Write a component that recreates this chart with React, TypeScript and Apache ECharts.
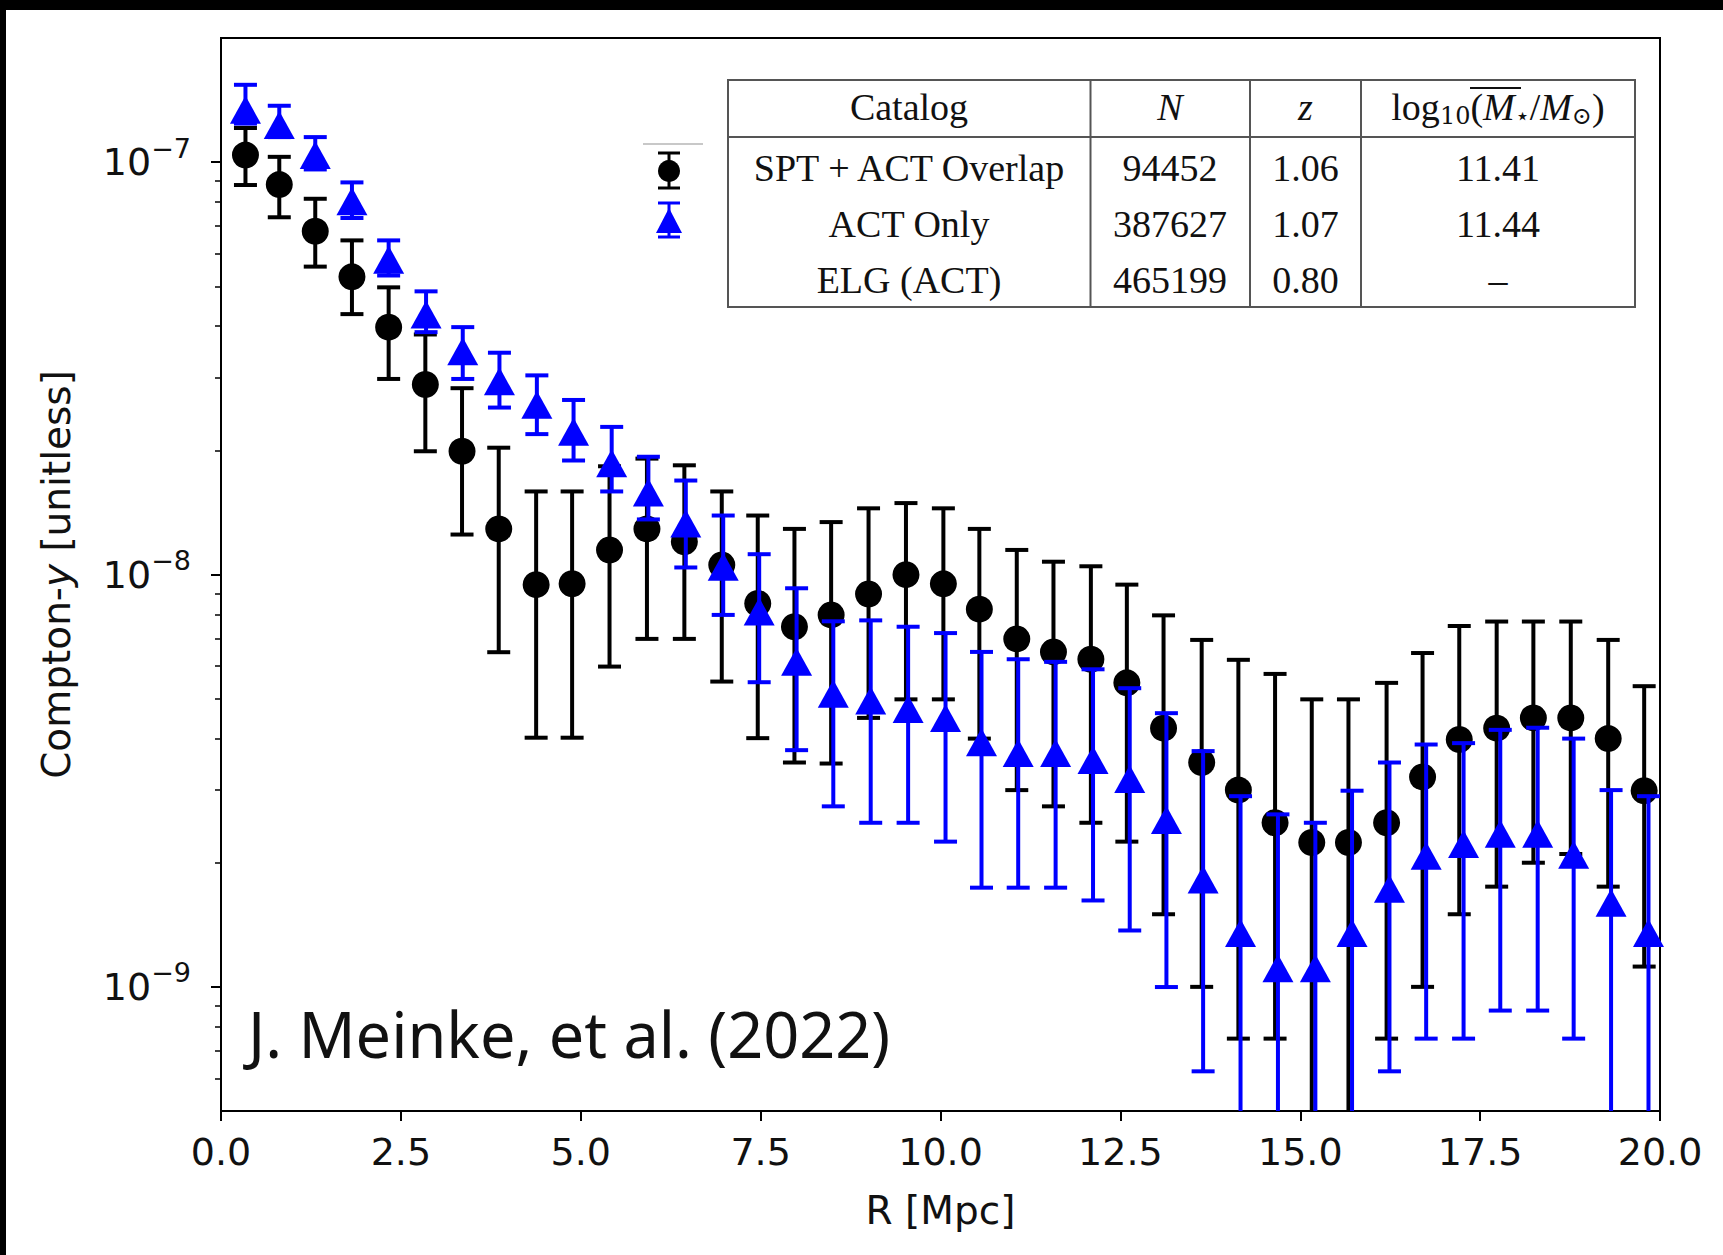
import React, { useEffect, useRef } from "react";
import * as echarts from "echarts";

// ---- Data ----
// SPT + ACT Overlap (black circles)
const rBlack = [0.34, 0.81, 1.31, 1.82, 2.33, 2.84, 3.35, 3.86, 4.38, 4.88, 5.4, 5.92, 6.44, 6.96, 7.46, 7.97, 8.48, 9.0, 9.52, 10.04, 10.54, 11.06, 11.57, 12.09, 12.59, 13.1, 13.63, 14.14, 14.65, 15.16, 15.67, 16.2, 16.7, 17.21, 17.73, 18.24, 18.76, 19.28, 19.78];
const yBlack = [1.04e-7, 8.82e-8, 6.8e-8, 5.27e-8, 3.98e-8, 2.89e-8, 1.99e-8, 1.29e-8, 9.45e-9, 9.5e-9, 1.147e-8, 1.29e-8, 1.2e-8, 1.055e-8, 8.51e-9, 7.47e-9, 7.98e-9, 8.97e-9, 9.99e-9, 9.49e-9, 8.24e-9, 6.98e-9, 6.49e-9, 6.23e-9, 5.46e-9, 4.24e-9, 3.5e-9, 3.0e-9, 2.5e-9, 2.24e-9, 2.24e-9, 2.5e-9, 3.23e-9, 3.98e-9, 4.24e-9, 4.49e-9, 4.49e-9, 4.0e-9, 2.99e-9];
const yBlackHi = [1.21e-7, 1.03e-7, 8.15e-8, 6.46e-8, 4.97e-8, 3.82e-8, 2.83e-8, 2.03e-8, 1.59e-8, 1.59e-8, 1.83e-8, 1.91e-8, 1.84e-8, 1.59e-8, 1.39e-8, 1.29e-8, 1.34e-8, 1.447e-8, 1.49e-8, 1.447e-8, 1.29e-8, 1.147e-8, 1.074e-8, 1.047e-8, 9.45e-9, 7.96e-9, 6.94e-9, 6.21e-9, 5.74e-9, 4.98e-9, 4.98e-9, 5.46e-9, 6.45e-9, 7.5e-9, 7.69e-9, 7.69e-9, 7.69e-9, 6.94e-9, 5.36e-9];
const yBlackLo = [8.8e-8, 7.35e-8, 5.58e-8, 4.28e-8, 2.98e-8, 1.99e-8, 1.25e-8, 6.48e-9, 4.02e-9, 4.02e-9, 5.98e-9, 6.98e-9, 6.98e-9, 5.5e-9, 4.01e-9, 3.5e-9, 3.48e-9, 4.49e-9, 4.98e-9, 4.98e-9, 4.0e-9, 3.0e-9, 2.74e-9, 2.5e-9, 2.25e-9, 1.5e-9, 1.0e-9, 7.49e-10, 7.49e-10, 3e-10, 3e-10, 7.49e-10, 1.0e-9, 1.5e-9, 1.75e-9, 2.0e-9, 2.1e-9, 1.75e-9, 1.12e-9];

// ACT Only (blue triangles)
const rBlue = [0.34, 0.81, 1.31, 1.82, 2.33, 2.85, 3.36, 3.87, 4.39, 4.9, 5.43, 5.94, 6.46, 6.98, 7.48, 8.0, 8.51, 9.03, 9.55, 10.07, 10.57, 11.08, 11.6, 12.12, 12.63, 13.14, 13.65, 14.17, 14.69, 15.21, 15.72, 16.24, 16.75, 17.27, 17.78, 18.3, 18.8, 19.32, 19.84];
const yBlue = [1.34e-7, 1.23e-7, 1.04e-7, 8.04e-8, 5.8e-8, 4.27e-8, 3.48e-8, 2.94e-8, 2.58e-8, 2.22e-8, 1.86e-8, 1.58e-8, 1.33e-8, 1.044e-8, 8.13e-9, 6.14e-9, 5.14e-9, 4.95e-9, 4.72e-9, 4.49e-9, 3.92e-9, 3.69e-9, 3.69e-9, 3.55e-9, 3.19e-9, 2.54e-9, 1.82e-9, 1.35e-9, 1.11e-9, 1.11e-9, 1.35e-9, 1.73e-9, 2.08e-9, 2.22e-9, 2.35e-9, 2.35e-9, 2.09e-9, 1.6e-9, 1.35e-9];
const yBlueHi = [1.54e-7, 1.37e-7, 1.15e-7, 8.93e-8, 6.46e-8, 4.86e-8, 3.98e-8, 3.45e-8, 3.04e-8, 2.65e-8, 2.28e-8, 1.93e-8, 1.69e-8, 1.39e-8, 1.12e-8, 9.26e-9, 7.7e-9, 7.74e-9, 7.47e-9, 7.21e-9, 6.49e-9, 6.23e-9, 6.14e-9, 5.89e-9, 5.3e-9, 4.61e-9, 3.73e-9, 2.9e-9, 2.62e-9, 2.5e-9, 2.99e-9, 3.5e-9, 3.87e-9, 3.9e-9, 4.2e-9, 4.25e-9, 4.0e-9, 3.0e-9, 2.9e-9];
const yBlueLo = [1.24e-7, 1.15e-7, 9.6e-8, 7.32e-8, 5.31e-8, 3.87e-8, 2.98e-8, 2.54e-8, 2.19e-8, 1.89e-8, 1.59e-8, 1.36e-8, 1.04e-8, 7.98e-9, 5.48e-9, 3.75e-9, 2.74e-9, 2.5e-9, 2.5e-9, 2.25e-9, 1.74e-9, 1.74e-9, 1.74e-9, 1.62e-9, 1.37e-9, 9.99e-10, 6.24e-10, 3e-10, 3e-10, 3e-10, 3e-10, 6.24e-10, 7.49e-10, 7.49e-10, 8.76e-10, 8.76e-10, 7.49e-10, 3e-10, 3e-10];

// Axis settings
const xTicks = [0, 2.5, 5, 7.5, 10, 12.5, 15, 17.5, 20];
const yMajor = [1e-9, 1e-8, 1e-7];
const yMinor = [6e-10, 7e-10, 8e-10, 9e-10, 2e-9, 3e-9, 4e-9, 5e-9, 6e-9, 7e-9, 8e-9, 9e-9, 2e-8, 3e-8, 4e-8, 5e-8, 6e-8, 7e-8, 8e-8, 9e-8];
const yMin = 5e-10;
const yMax = 2e-7;

// Table
const tableHeader = ["Catalog", "N", "z"];
const tableRows = [
  ["SPT + ACT Overlap", "94452", "1.06", "11.41"],
  ["ACT Only", "387627", "1.07", "11.44"],
  ["ELG (ACT)", "465199", "0.80", "–"],
];

const BLUE = "#0000ff";
const BLACK = "#000000";

function errorBarRenderer(color: string) {
  return (params: any, api: any) => {
    const x = api.value(0);
    const lo = api.value(1);
    const hi = api.value(2);
    const pLo = api.coord([x, lo]);
    const pHi = api.coord([x, hi]);
    const cap = 11.5;
    const st = { stroke: color, lineWidth: 4 };
    return {
      type: "group",
      children: [
        { type: "line", shape: { x1: pLo[0], y1: pLo[1], x2: pHi[0], y2: pHi[1] }, style: st },
        { type: "line", shape: { x1: pHi[0] - cap, y1: pHi[1], x2: pHi[0] + cap, y2: pHi[1] }, style: st },
        { type: "line", shape: { x1: pLo[0] - cap, y1: pLo[1], x2: pLo[0] + cap, y2: pLo[1] }, style: st },
      ],
    };
  };
}

export default function App() {
  const ref = useRef<HTMLDivElement>(null);
  useEffect(() => {
    if (!ref.current) return;
    const chart = echarts.init(ref.current, null, { renderer: "svg" });
    const L = Math.log10;

    const blackPts = rBlack.map((r, i) => [r, L(yBlack[i])]);
    const bluePts = rBlue.map((r, i) => [r, L(yBlue[i])]);
    const blackErr = rBlack.map((r, i) => [r, L(yBlackLo[i]), L(yBlackHi[i])]);
    const blueErr = rBlue.map((r, i) => [r, L(yBlueLo[i]), L(yBlueHi[i])]);

    const tickFont = { fontFamily: "DejaVu Sans", fontSize: 38, color: "#111" };

    const serif = "Liberation Serif";
    const colX = [909, 1170, 1305.5, 1498];
    const rowY = [168, 224, 280];
    const tableTexts: any[] = [];
    tableHeader.forEach((h, i) => {
      tableTexts.push({
        type: "text",
        x: colX[i],
        y: 107,
        style: {
          text: h,
          fontFamily: serif,
          fontSize: 38,
          fontStyle: i === 0 ? "normal" : "italic",
          fill: "#111",
          align: "center",
          verticalAlign: "middle",
        },
      });
    });
    tableTexts.push({
      type: "text",
      x: colX[3],
      y: 107,
      style: {
        text: "{r|log}{sub|10}{r|(}{it|M}{sub|⋆}{r|/}{it|M}{sub|⊙}{r|)}",
        fontFamily: serif,
        fontSize: 38,
        fill: "#111",
        align: "center",
        verticalAlign: "middle",
        rich: {
          r: { fontFamily: serif, fontSize: 38, fill: "#111" },
          it: { fontFamily: serif, fontSize: 38, fontStyle: "italic", fill: "#111" },
          sub: { fontFamily: "DejaVu Serif", fontSize: 24, fill: "#111", padding: [18, 0, 0, 0] },
        },
      },
    });
    tableRows.forEach((row, ri) => {
      row.forEach((cell, ci) => {
        tableTexts.push({
          type: "text",
          x: colX[ci],
          y: rowY[ri],
          style: {
            text: cell,
            fontFamily: serif,
            fontSize: 38,
            fill: "#111",
            align: "center",
            verticalAlign: "middle",
          },
        });
      });
    });

    const tableLine = { stroke: "#555", lineWidth: 2 };

    const option: any = {
      animation: false,
      backgroundColor: "#ffffff",
      grid: {
        left: 221,
        right: 63,
        top: 38,
        bottom: 144,
        show: true,
        borderColor: "#000",
        borderWidth: 2,
        backgroundColor: "transparent",
        containLabel: false,
        outerBoundsMode: "none",
      },
      xAxis: {
        type: "value",
        min: 0,
        max: 20,
        interval: 2.5,
        name: "R [Mpc]",
        nameLocation: "middle",
        nameGap: 80,
        nameTextStyle: { fontFamily: "DejaVu Sans", fontSize: 39, color: "#111" },
        axisLine: { show: true, onZero: false, lineStyle: { color: "#000", width: 2 } },
        axisTick: { show: true, inside: false, length: 10, lineStyle: { color: "#000", width: 2 }, customValues: xTicks },
        axisLabel: { ...tickFont, margin: 22, formatter: (v: number) => v.toFixed(1), customValues: xTicks },
        splitLine: { show: false },
      },
      yAxis: [
        {
          type: "value",
          min: L(yMin),
          max: L(yMax),
          position: "left",
          name: "Compton-{i|y} [unitless]",
          nameLocation: "middle",
          nameRotate: 90,
          nameGap: 145,
          nameTextStyle: {
            fontFamily: "DejaVu Sans",
            fontSize: 39,
            color: "#111",
            rich: { i: { fontFamily: "DejaVu Sans", fontSize: 39, fontStyle: "italic", color: "#111" } },
          },
          axisLine: { show: true, onZero: false, lineStyle: { color: "#000", width: 2 } },
          axisTick: { show: true, inside: false, length: 10, lineStyle: { color: "#000", width: 2 }, customValues: yMajor.map(L) },
          axisLabel: {
            margin: 30,
            customValues: yMajor.map(L),
            formatter: (v: number) => `{b|10}{s|−${Math.abs(Math.round(v))}}`,
            rich: {
              b: { fontFamily: "DejaVu Sans", fontSize: 38, color: "#111" },
              s: { fontFamily: "DejaVu Sans", fontSize: 27, color: "#111", padding: [0, 0, 28, 0] },
            },
          },
          splitLine: { show: false },
        },
        {
          type: "value",
          min: L(yMin),
          max: L(yMax),
          position: "left",
          offset: 0,
          axisLine: { show: false },
          axisTick: { show: true, inside: false, length: 6, lineStyle: { color: "#000", width: 1.5 }, customValues: yMinor.map(L) },
          axisLabel: { show: false },
          splitLine: { show: false },
        },
      ],
      series: [
        {
          type: "custom",
          name: "SPT + ACT Overlap err",
          renderItem: errorBarRenderer(BLACK),
          data: blackErr,
          encode: { x: 0, y: [1, 2] },
          clip: true,
          z: 2,
        },
        {
          type: "scatter",
          name: "SPT + ACT Overlap",
          data: blackPts,
          symbol: "circle",
          symbolSize: 27,
          itemStyle: { color: BLACK, opacity: 1 },
          clip: true,
          z: 3,
        },
        {
          type: "custom",
          name: "ACT Only err",
          renderItem: errorBarRenderer(BLUE),
          data: blueErr,
          encode: { x: 0, y: [1, 2] },
          clip: true,
          z: 4,
        },
        {
          type: "scatter",
          name: "ACT Only",
          data: bluePts,
          symbol: "triangle",
          symbolSize: [31, 28],
          itemStyle: { color: BLUE, opacity: 1 },
          clip: true,
          z: 5,
        },
      ],
      graphic: [
        // black frame bands of the screenshot
        { type: "rect", shape: { x: 0, y: 0, width: 1723, height: 10 }, style: { fill: "#000" }, z: 100 },
        { type: "rect", shape: { x: 0, y: 0, width: 6, height: 1255 }, style: { fill: "#000" }, z: 100 },
        // credit text
        {
          type: "text",
          x: 248,
          y: 1033,
          style: {
            text: "J. Meinke, et al. (2022)",
            fontFamily: "Noto Sans",
            fontSize: 63,
            fill: "#111",
            align: "left",
            verticalAlign: "middle",
          },
          z: 50,
        },
        // legend remnants
        { type: "line", shape: { x1: 643, y1: 144, x2: 703, y2: 144 }, style: { stroke: "#c8c8c8", lineWidth: 2 }, z: 50 },
        { type: "line", shape: { x1: 669, y1: 153, x2: 669, y2: 188 }, style: { stroke: BLACK, lineWidth: 3 }, z: 50 },
        { type: "line", shape: { x1: 658, y1: 153, x2: 680, y2: 153 }, style: { stroke: BLACK, lineWidth: 3 }, z: 50 },
        { type: "line", shape: { x1: 658, y1: 188, x2: 680, y2: 188 }, style: { stroke: BLACK, lineWidth: 3 }, z: 50 },
        { type: "circle", shape: { cx: 669, cy: 171, r: 11 }, style: { fill: BLACK }, z: 51 },
        { type: "line", shape: { x1: 669, y1: 203, x2: 669, y2: 237 }, style: { stroke: BLUE, lineWidth: 3 }, z: 50 },
        { type: "line", shape: { x1: 658, y1: 203, x2: 680, y2: 203 }, style: { stroke: BLUE, lineWidth: 3 }, z: 50 },
        { type: "line", shape: { x1: 658, y1: 237, x2: 680, y2: 237 }, style: { stroke: BLUE, lineWidth: 3 }, z: 50 },
        { type: "polygon", shape: { points: [[669, 208], [656, 233], [682, 233]] }, style: { fill: BLUE }, z: 51 },
        // table
        { type: "rect", shape: { x: 728, y: 80, width: 907, height: 227 }, style: { fill: "#fff", ...tableLine }, z: 60 },
        { type: "line", shape: { x1: 728, y1: 137, x2: 1635, y2: 137 }, style: tableLine, z: 61 },
        { type: "line", shape: { x1: 1090.5, y1: 80, x2: 1090.5, y2: 307 }, style: tableLine, z: 61 },
        { type: "line", shape: { x1: 1250, y1: 80, x2: 1250, y2: 307 }, style: tableLine, z: 61 },
        { type: "line", shape: { x1: 1361, y1: 80, x2: 1361, y2: 307 }, style: tableLine, z: 61 },
        { type: "line", shape: { x1: 1470, y1: 88, x2: 1521, y2: 88 }, style: { stroke: "#111", lineWidth: 2 }, z: 62 },
        ...tableTexts.map((t) => ({ ...t, z: 62 })),
      ],
    };
    chart.setOption(option);
    return () => chart.dispose();
  }, []);

  return (
    <div
      ref={ref}
      style={{ position: "absolute", left: 0, top: 0, width: 1723, height: 1255 }}
    />
  );
}
